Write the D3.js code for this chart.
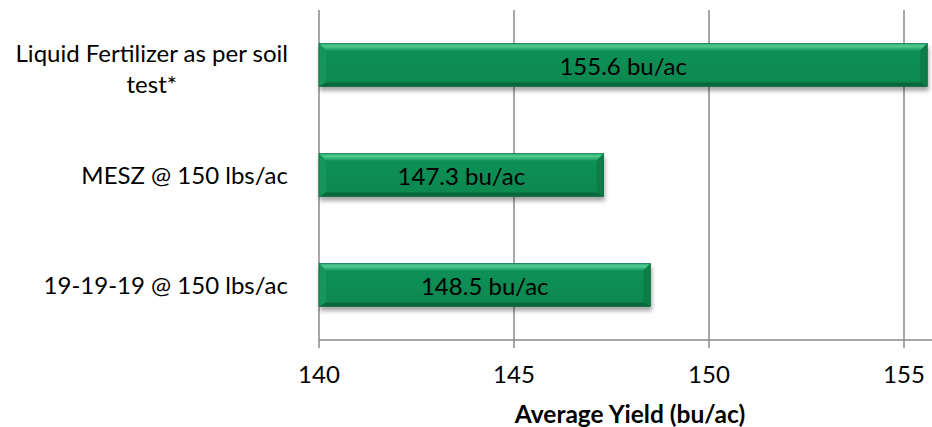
<!DOCTYPE html>
<html>
<head>
<meta charset="utf-8">
<script src="https://cdn.jsdelivr.net/npm/d3@7"></script>
<style>
  html, body { margin: 0; padding: 0; background: #fff; }
  svg { display: block; }
  text { font-family: "Lato", "Open Sans", sans-serif; fill: #000; }
</style>
</head>
<body>
<svg id="chart" width="932" height="427"></svg>
<script>
// ---- data ----
const categories = ["Liquid Fertilizer as per soil test*", "MESZ @ 150 lbs/ac", "19-19-19 @ 150 lbs/ac"];
const categoryLines = [["Liquid Fertilizer as per soil", "test*"], ["MESZ @ 150 lbs/ac"], ["19-19-19 @ 150 lbs/ac"]];
const values = [155.6, 147.3, 148.5];
const valueLabels = ["155.6 bu/ac", "147.3 bu/ac", "148.5 bu/ac"];
const xTicks = [140, 145, 150, 155];
const xTitle = "Average Yield (bu/ac)";

// ---- layout ----
const svg = d3.select("#chart");
const plot = { left: 319, right: 932, top: 10, bottom: 340 };
const FS = 24;

const x = d3.scaleLinear().domain([140, 155]).range([plot.left, 904]);
const y = d3.scaleBand().domain(categories).range([plot.top, plot.bottom])
  .paddingInner(0.61).paddingOuter(0.305);

const defs = svg.append("defs");
const f = defs.append("filter").attr("id", "shadow")
  .attr("x", "-5%").attr("y", "-30%").attr("width", "110%").attr("height", "170%");
f.append("feDropShadow").attr("dx", 1).attr("dy", 4).attr("stdDeviation", 2.2)
  .attr("flood-color", "#000").attr("flood-opacity", 0.35);

const gTop = defs.append("linearGradient").attr("id", "topGrad")
  .attr("x1", 0).attr("y1", 0).attr("x2", 0).attr("y2", 1);
gTop.append("stop").attr("offset", "0%").attr("stop-color", "#2fae71");
gTop.append("stop").attr("offset", "40%").attr("stop-color", "#4fcb91");
gTop.append("stop").attr("offset", "100%").attr("stop-color", "#18995c");

const gBody = defs.append("linearGradient").attr("id", "bodyGrad")
  .attr("x1", 0).attr("y1", 0).attr("x2", 0).attr("y2", 1);
gBody.append("stop").attr("offset", "0%").attr("stop-color", "#0f9257");
gBody.append("stop").attr("offset", "100%").attr("stop-color", "#0b874f");

// gridlines
svg.append("g").selectAll("line").data(xTicks).join("line")
  .attr("x1", d => x(d)).attr("x2", d => x(d))
  .attr("y1", plot.top).attr("y2", plot.bottom + 8)
  .attr("stroke", "#8a8a8a").attr("stroke-width", 1.5);

// axis line
svg.append("line")
  .attr("x1", plot.left).attr("x2", plot.right)
  .attr("y1", plot.bottom).attr("y2", plot.bottom)
  .attr("stroke", "#8a8a8a").attr("stroke-width", 1.5);

// bars
const bars = svg.append("g").selectAll("g").data(values).join("g")
  .attr("filter", "url(#shadow)");

bars.each(function(v, i) {
  const g = d3.select(this);
  const x0 = x(140), x1 = x(v);
  const y0 = y(categories[i]), h = y.bandwidth(), y1 = y0 + h;
  const b = 7, bb = 4;
  g.append("rect").attr("x", x0).attr("y", y0).attr("width", x1 - x0).attr("height", h)
    .attr("fill", "url(#bodyGrad)");
  g.append("polygon").attr("points", [[x0, y0], [x1, y0], [x1 - b, y0 + b], [x0 + b, y0 + b]].join(" "))
    .attr("fill", "url(#topGrad)");
  g.append("polygon").attr("points", [[x0, y0], [x0 + b, y0 + b], [x0 + b, y1 - bb], [x0, y1]].join(" "))
    .attr("fill", "#12965a");
  g.append("polygon").attr("points", [[x1, y0], [x1 - b, y0 + b], [x1 - b, y1 - bb], [x1, y1]].join(" "))
    .attr("fill", "#087c46");
  g.append("polygon").attr("points", [[x0, y1], [x1, y1], [x1 - b, y1 - bb], [x0 + b, y1 - bb]].join(" "))
    .attr("fill", "#06673a");
  g.append("rect").attr("x", x0).attr("y", y0).attr("width", x1 - x0).attr("height", h)
    .attr("fill", "none").attr("stroke", "#0a6a3c").attr("stroke-width", 0.6);
});

// value labels
svg.append("g").selectAll("text").data(values).join("text")
  .attr("x", d => (x(140) + x(d)) / 2)
  .attr("y", (d, i) => y(categories[i]) + y.bandwidth() / 2 + 10)
  .attr("text-anchor", "middle")
  .attr("font-size", FS)
  .text((d, i) => valueLabels[i]);

// category labels
const labelRight = 288;
const lineH = 31;
categoryLines.forEach((lines, i) => {
  const cy = y(categories[i]) + y.bandwidth() / 2;
  const t = svg.append("text").attr("font-size", FS).attr("text-anchor", "middle");
  const spans = lines.map(ln => t.append("tspan").text(ln));
  const maxW = d3.max(spans, s => s.node().getComputedTextLength());
  const cx = labelRight - maxW / 2;
  const firstBase = lines.length > 1 ? cy - 3 : cy + 9;
  spans.forEach((s, j) => s.attr("x", cx).attr("y", firstBase + j * lineH));
});

// tick labels
svg.append("g").selectAll("text").data(xTicks).join("text")
  .attr("x", d => x(d)).attr("y", 383)
  .attr("text-anchor", "middle").attr("font-size", FS)
  .text(d => d);

// axis title
svg.append("text")
  .attr("x", 630).attr("y", 423)
  .attr("text-anchor", "middle").attr("font-size", 24.5).attr("font-weight", "bold")
  .text(xTitle);
</script>
</body>
</html>
